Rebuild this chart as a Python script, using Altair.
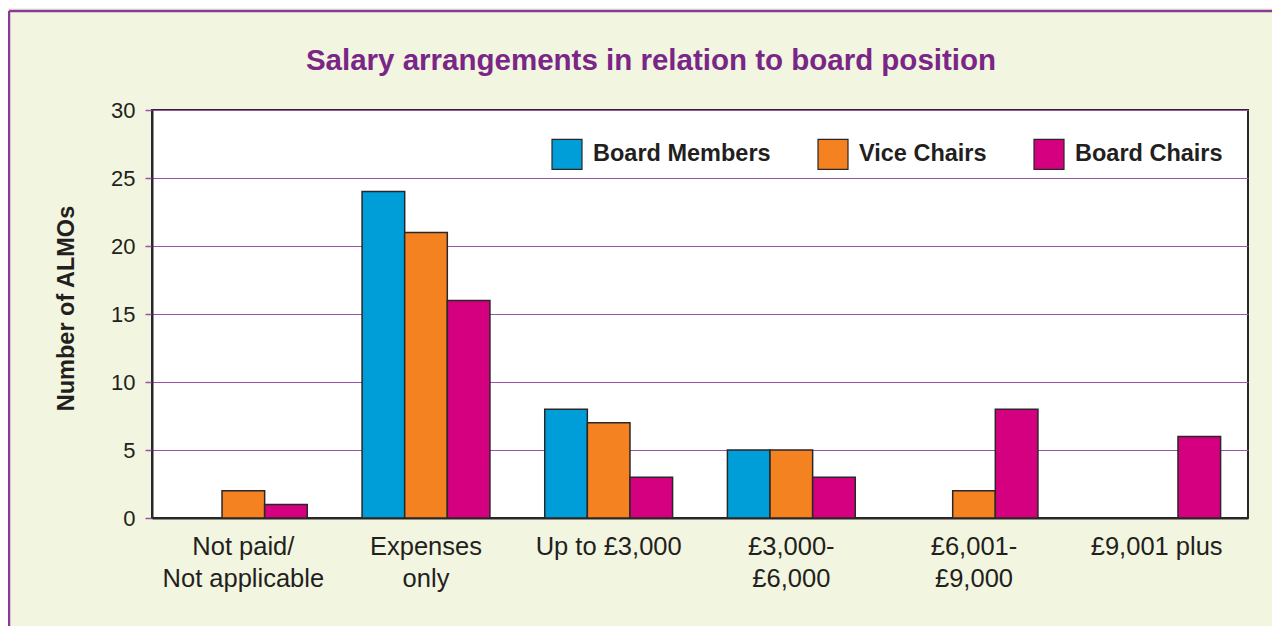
import altair as alt
import pandas as pd

categories = ["Not paid/|Not applicable", "Expenses|only", "Up to £3,000",
              "£3,000-|£6,000", "£6,001-|£9,000", "£9,001 plus"]
series = ["Board Members", "Vice Chairs", "Board Chairs"]
board_members = [0, 24, 8, 5, 0, 0]
vice_chairs = [2, 21, 7, 5, 2, 0]
board_chairs = [1, 16, 3, 3, 8, 6]
colors = ["#009ed8", "#f58220", "#d5007f"]

rows = []
for s, vals in zip(series, [board_members, vice_chairs, board_chairs]):
    for c, v in zip(categories, vals):
        if v > 0:
            rows.append({"category": c, "position": s, "count": v})
df = pd.DataFrame(rows)

FONT = "Liberation Sans"
TEXT = "#231f20"
PURPLE = "#7a2687"
GRID = "#9a52ad"

bars = alt.Chart(df).mark_bar(stroke="#2b2628", strokeWidth=1.5).encode(
    x=alt.X("category:N", sort=categories,
            scale=alt.Scale(domain=categories, paddingInner=0.3, paddingOuter=0.15),
            axis=alt.Axis(title=None, labelAngle=0, labelExpr="split(datum.label, '|')",
                          labelFontSize=25.5, labelColor=TEXT, labelFont=FONT,
                          labelLineHeight=32, labelPadding=16, ticks=False, labelLimit=400,
                          domainColor="#2b2628", domainWidth=2, grid=False)),
    xOffset=alt.XOffset("position:N", sort=series,
                        scale=alt.Scale(domain=series, paddingInner=0, paddingOuter=0)),
    y=alt.Y("count:Q", scale=alt.Scale(domain=[0, 30]),
            axis=alt.Axis(title="Number of ALMOs", values=[0, 5, 10, 15, 20, 25, 30],
                          titleFontSize=23.5, titleFontWeight="bold", titleColor=TEXT,
                          titleFont=FONT, titlePadding=32, titleY=198,
                          labelFontSize=22, labelColor=TEXT, labelFont=FONT, labelPadding=10,
                          tickColor=GRID, tickSize=7, tickWidth=1.5,
                          domainColor="#2b2628", domainWidth=2,
                          grid=True, gridColor=GRID, gridWidth=1.2)),
    fill=alt.Fill("position:N", sort=series,
                  scale=alt.Scale(domain=series, range=colors),
                  legend=alt.Legend(title=None, orient="none", legendX=399, legendY=28,
                                    direction="horizontal", columns=3, columnPadding=44,
                                    symbolType="square", symbolSize=900,
                                    symbolStrokeColor="#2b2628", symbolStrokeWidth=1.2,
                                    symbolOpacity=1, labelOffset=10, labelLimit=400,
                                    labelFontSize=23.5, labelFontWeight="bold",
                                    labelColor=TEXT, labelFont=FONT, padding=0)),
)

frame = alt.Data(values=[{}])
left_border = alt.Chart(frame).mark_rule(color="#8b3a9c", strokeWidth=2.5).encode(
    x=alt.value(-143), y=alt.value(-99), y2=alt.value(530))
top_border = alt.Chart(frame).mark_rule(color="#8b3a9c", strokeWidth=2.5).encode(
    x=alt.value(-143), x2=alt.value(1140), y=alt.value(-99))

chart = alt.layer(bars, left_border, top_border).properties(
    width=1096, height=408,
    padding={"left": 144, "top": 102, "right": 24, "bottom": 108},
    autosize=alt.AutoSizeParams(type="none"),
    background="#f2f5df",
    title=alt.TitleParams("Salary arrangements in relation to board position",
                          fontSize=29.5, fontWeight="bold", color=PURPLE, font=FONT,
                          anchor="middle", frame="group", dx=-49, offset=-90,
                          baseline="alphabetic"),
).configure_view(stroke="#2b2628", strokeWidth=2, fill="white")

chart.save("out.html", embed_options={"renderer": "svg", "actions": False})
